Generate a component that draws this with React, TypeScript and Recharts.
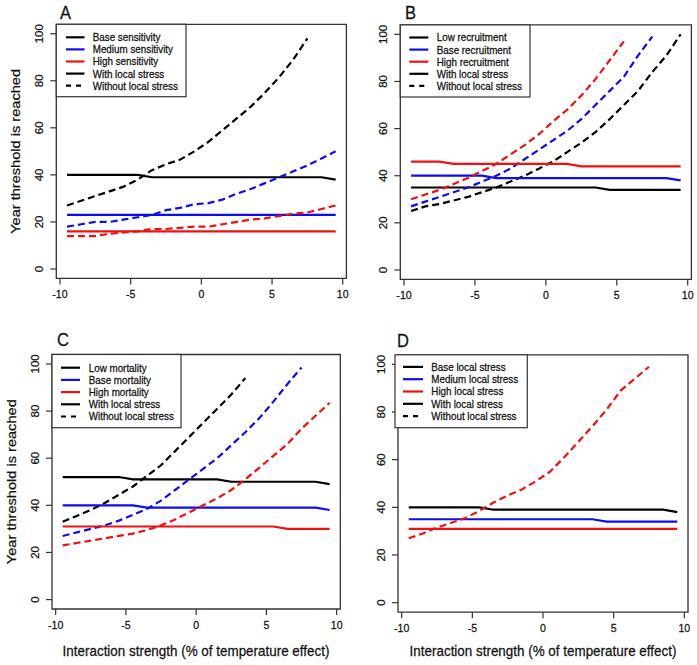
import React from 'react';
import { LineChart, Line, XAxis, YAxis, ReferenceArea } from 'recharts';

// ---------- shared axis values ----------
const xValues = [-9.5, -8.5, -7.5, -6.5, -5.5, -4.5, -3.5, -2.5, -1.5, -0.5, 0.5, 1.5, 2.5, 3.5, 4.5, 5.5, 6.5, 7.5, 8.5, 9.5];
const xTicks = [-10, -5, 0, 5, 10];
const yTicks = [0, 20, 40, 60, 80, 100];
const xDomain = [-10.26, 10.26];
const yDomain = [-4, 104];

// ---------- Panel A: sensitivity ----------
const aBaseWith = [40, 40, 40, 40, 40, 40, 39, 39, 39, 39, 39, 39, 39, 39, 39, 39, 39, 39, 39, 38];
const aMediumWith = [23, 23, 23, 23, 23, 23, 23, 23, 23, 23, 23, 23, 23, 23, 23, 23, 23, 23, 23, 23];
const aHighWith = [16, 16, 16, 16, 16, 16, 16, 16, 16, 16, 16, 16, 16, 16, 16, 16, 16, 16, 16, 16];
const aBaseWithout = [27, 29, 31, 33, 35, 38, 42, 44.5, 46.5, 50, 54, 59, 64, 69, 75, 81.5, 89, 98];
const aMediumWithout = [18, 19, 20, 20, 21, 22, 23, 25, 26, 27.5, 28, 29.5, 32, 34, 36.5, 39, 41.5, 44, 47, 50];
const aHighWithout = [14, 14, 14, 15, 15.5, 16, 17, 17, 17.5, 18, 18, 19, 20, 21, 21.5, 22.5, 23.5, 24, 25.5, 27];
const aLegend = ['Base sensitivity', 'Medium sensitivity', 'High sensitivity', 'With local stress', 'Without local stress'];

// ---------- Panel B: recruitment ----------
const bLowWith = [35, 35, 35, 35, 35, 35, 35, 35, 35, 35, 35, 35, 35, 35, 34, 34, 34, 34, 34, 34];
const bBaseWith = [40, 40, 40, 40, 40, 40, 39, 39, 39, 39, 39, 39, 39, 39, 39, 39, 39, 39, 39, 38];
const bHighWith = [46, 46, 46, 45, 45, 45, 45, 45, 45, 45, 45, 45, 44, 44, 44, 44, 44, 44, 44, 44];
const bLowWithout = [25, 27, 28, 29.5, 31, 33, 35, 37.5, 40, 43, 46, 50, 54, 58.5, 64, 70, 76, 84, 91, 100];
const bBaseWithout = [27, 29, 31, 33, 35, 37.5, 40, 43, 47, 51, 55, 59, 64, 70, 76, 82, 91, 99];
const bHighWithout = [30, 32, 34, 36.5, 39, 42, 45, 49, 53, 57.5, 63, 68, 74, 81, 89, 97];
const bLegend = ['Low recruitment', 'Base recruitment', 'High recruitment', 'With local stress', 'Without local stress'];

// ---------- Panel C: mortality ----------
const cLowWith = [52, 52, 52, 52, 52, 51, 51, 51, 51, 51, 51, 51, 50, 50, 50, 50, 50, 50, 50, 49];
const cBaseWith = [40, 40, 40, 40, 40, 40, 39, 39, 39, 39, 39, 39, 39, 39, 39, 39, 39, 39, 39, 38];
const cHighWith = [31, 31, 31, 31, 31, 31, 31, 31, 31, 31, 31, 31, 31, 31, 31, 31, 30, 30, 30, 30];
const cLowWithout = [33, 35.5, 38, 41, 44.5, 48, 52.5, 57, 63, 69, 75, 81, 87, 94];
const cBaseWithout = [27, 28.5, 30, 31.5, 33.5, 36, 38.5, 42, 46.5, 51, 55.5, 60, 65.5, 71, 77, 84, 91.5, 98.5];
const cHighWithout = [23, 24, 25, 26, 27, 28, 29.5, 31.5, 34, 37, 40, 43, 46.5, 51, 56, 61, 66, 72.5, 78, 83.5];
const cLegend = ['Low mortality', 'Base mortality', 'High mortality', 'With local stress', 'Without local stress'];

// ---------- Panel D: local stress ----------
const dBaseWith = [40, 40, 40, 40, 40, 40, 39, 39, 39, 39, 39, 39, 39, 39, 39, 39, 39, 39, 39, 38];
const dMediumWith = [35, 35, 35, 35, 35, 35, 35, 35, 35, 35, 35, 35, 35, 35, 34, 34, 34, 34, 34, 34];
const dHighWith = [31, 31, 31, 31, 31, 31, 31, 31, 31, 31, 31, 31, 31, 31, 31, 31, 31, 31, 31, 31];
const dWithout = [27, 29, 31.5, 33.5, 35.5, 38.5, 42, 45, 47.5, 51, 55, 61, 67.5, 74, 81, 89, 94, 99];
const dLegend = ['Base local stress', 'Medium local stress', 'High local stress', 'With local stress', 'Without local stress'];

const BLACK = '#000000';
const BLUE = '#0d0df0';
const RED = '#f01010';
const FRAME = '#333333';
const TXT = '#111111';
const FONT = '"Liberation Sans", Arial, Helvetica, sans-serif';
const W = 697;
const H = 665;
const DASH = '7 4';
const SQ = 0.92; // horizontal squeeze of the glyphs seen in the reference

type Box = { left: number; top: number; right: number; bottom: number };
type SeriesDef = { key: string; values: number[]; color: string; dashed: boolean };

const buildRows = (series: SeriesDef[]) =>
  xValues.map((x, i) => {
    const row: Record<string, number | null> = { x };
    series.forEach((s) => {
      row[s.key] = i < s.values.length ? s.values[i] : null;
    });
    return row;
  });

function HText({ x, y, size, anchor, children }: { x: number; y: number; size: number; anchor?: 'start' | 'middle' | 'end'; children: React.ReactNode }) {
  return (
    <text
      transform={`translate(${x},${y}) scale(${SQ},1)`}
      x={0}
      y={0}
      fontSize={size}
      fontFamily={FONT}
      fill={TXT}
      stroke={TXT}
      strokeWidth={0.25}
      textAnchor={anchor || 'start'}
    >
      {children}
    </text>
  );
}

function VText({ x, y, size, children }: { x: number; y: number; size: number; children: React.ReactNode }) {
  return (
    <text
      transform={`translate(${x},${y}) rotate(-90) scale(1,${SQ})`}
      x={0}
      y={0}
      fontSize={size}
      fontFamily={FONT}
      fill={TXT}
      stroke={TXT}
      strokeWidth={0.25}
      textAnchor="middle"
    >
      {children}
    </text>
  );
}

const Y_AXIS_W = 40;
const X_AXIS_H = 30;

function Panel({ box, series }: { box: Box; series: SeriesDef[] }) {
  const data = buildRows(series);
  const XTick = (props: any) => (
    <HText x={props.x} y={box.bottom + 20} size={11.5} anchor="middle">
      {props.payload.value}
    </HText>
  );
  const YTick = (props: any) => (
    <VText x={box.left - 13} y={props.y} size={11.5}>
      {props.payload.value}
    </VText>
  );
  return (
    <div style={{ position: 'absolute', left: 0, top: 0, width: W, height: H }}>
      <LineChart
        width={W}
        height={H}
        data={data}
        margin={{
          left: box.left - Y_AXIS_W,
          top: box.top,
          right: W - box.right,
          bottom: H - box.bottom - X_AXIS_H,
        }}
      >
        <XAxis
          dataKey="x"
          type="number"
          domain={xDomain}
          ticks={xTicks}
          allowDataOverflow
          height={X_AXIS_H}
          axisLine={false}
          tickLine={{ stroke: FRAME, strokeWidth: 1.2 }}
          tickSize={6}
          tick={<XTick />}
        />
        <YAxis
          type="number"
          domain={yDomain}
          ticks={yTicks}
          allowDataOverflow
          width={Y_AXIS_W}
          axisLine={false}
          tickLine={{ stroke: FRAME, strokeWidth: 1.2 }}
          tickSize={6}
          tick={<YTick />}
        />
        <ReferenceArea
          x1={xDomain[0]}
          x2={xDomain[1]}
          y1={yDomain[0]}
          y2={yDomain[1]}
          fill="none"
          fillOpacity={0}
          stroke={FRAME}
          strokeWidth={1.3}
          ifOverflow="visible"
        />
        {series.map((s) => (
          <Line
            key={s.key}
            dataKey={s.key}
            type="linear"
            stroke={s.color}
            strokeWidth={2.2}
            strokeDasharray={s.dashed ? DASH : undefined}
            dot={false}
            activeDot={false}
            isAnimationActive={false}
            connectNulls={false}
          />
        ))}
      </LineChart>
    </div>
  );
}

type LegendGeom = { left: number; top: number; right: number; bottom: number; lineX1: number; lineX2: number; textX: number; row0: number; step: number };

function LegendBox({ g, labels }: { g: LegendGeom; labels: string[] }) {
  const styles = [
    { color: BLACK, dashed: false },
    { color: BLUE, dashed: false },
    { color: RED, dashed: false },
    { color: BLACK, dashed: false },
    { color: BLACK, dashed: true },
  ];
  return (
    <g>
      <rect x={g.left} y={g.top} width={g.right - g.left} height={g.bottom - g.top} fill="#fff" stroke={FRAME} strokeWidth={1.2} />
      {labels.map((lab, i) => {
        const y = g.row0 + i * g.step;
        return (
          <g key={lab + i}>
            <line x1={g.lineX1} x2={g.lineX2} y1={y} y2={y} stroke={styles[i].color} strokeWidth={2.2} strokeDasharray={styles[i].dashed ? '5 5' : undefined} />
            <HText x={g.textX} y={y + 3.9} size={10.7}>
              {lab}
            </HText>
          </g>
        );
      })}
    </g>
  );
}

const boxA: Box = { left: 56.3, top: 24.3, right: 346.4, bottom: 278.4 };
const boxB: Box = { left: 400.3, top: 24.9, right: 691.4, bottom: 279.4 };
const boxC: Box = { left: 52, top: 354.5, right: 340.3, bottom: 609 };
const boxD: Box = { left: 398, top: 354.8, right: 688, bottom: 612.2 };

export default function App() {
  const seriesA: SeriesDef[] = [
    { key: 'bw', values: aBaseWith, color: BLACK, dashed: false },
    { key: 'bo', values: aBaseWithout, color: BLACK, dashed: true },
    { key: 'mw', values: aMediumWith, color: BLUE, dashed: false },
    { key: 'mo', values: aMediumWithout, color: BLUE, dashed: true },
    { key: 'hw', values: aHighWith, color: RED, dashed: false },
    { key: 'ho', values: aHighWithout, color: RED, dashed: true },
  ];
  const seriesB: SeriesDef[] = [
    { key: 'lw', values: bLowWith, color: BLACK, dashed: false },
    { key: 'lo', values: bLowWithout, color: BLACK, dashed: true },
    { key: 'bw', values: bBaseWith, color: BLUE, dashed: false },
    { key: 'bo', values: bBaseWithout, color: BLUE, dashed: true },
    { key: 'hw', values: bHighWith, color: RED, dashed: false },
    { key: 'ho', values: bHighWithout, color: RED, dashed: true },
  ];
  const seriesC: SeriesDef[] = [
    { key: 'lw', values: cLowWith, color: BLACK, dashed: false },
    { key: 'lo', values: cLowWithout, color: BLACK, dashed: true },
    { key: 'bw', values: cBaseWith, color: BLUE, dashed: false },
    { key: 'bo', values: cBaseWithout, color: BLUE, dashed: true },
    { key: 'hw', values: cHighWith, color: RED, dashed: false },
    { key: 'ho', values: cHighWithout, color: RED, dashed: true },
  ];
  const seriesD: SeriesDef[] = [
    { key: 'bw', values: dBaseWith, color: BLACK, dashed: false },
    { key: 'mw', values: dMediumWith, color: BLUE, dashed: false },
    { key: 'hw', values: dHighWith, color: RED, dashed: false },
    { key: 'ho', values: dWithout, color: RED, dashed: true },
  ];

  const xTitle = 'Interaction strength (% of temperature effect)';
  const yTitle = 'Year threshold is reached';

  return (
    <div style={{ position: 'absolute', left: 0, top: 0, width: W, height: H, background: '#fff', overflow: 'hidden' }}>
      <Panel box={boxA} series={seriesA} />
      <Panel box={boxB} series={seriesB} />
      <Panel box={boxC} series={seriesC} />
      <Panel box={boxD} series={seriesD} />
      <svg width={W} height={H} style={{ position: 'absolute', left: 0, top: 0, pointerEvents: 'none' }}>
        <LegendBox g={{ left: 56.3, top: 24.3, right: 186, bottom: 96.7, lineX1: 66, lineX2: 84.5, textX: 92.7, row0: 37.3, step: 12.1 }} labels={aLegend} />
        <LegendBox g={{ left: 400.3, top: 24.9, right: 530, bottom: 97, lineX1: 409.3, lineX2: 428.3, textX: 436.7, row0: 37.5, step: 12.1 }} labels={bLegend} />
        <LegendBox g={{ left: 52, top: 354.5, right: 181, bottom: 427.7, lineX1: 61, lineX2: 80, textX: 88.7, row0: 367.7, step: 12.2 }} labels={cLegend} />
        <LegendBox g={{ left: 395, top: 354.8, right: 527.3, bottom: 427.7, lineX1: 403, lineX2: 423, textX: 431.3, row0: 366.9, step: 12.3 }} labels={dLegend} />

        <HText x={60} y={19} size={18}>A</HText>
        <HText x={405} y={19} size={18}>B</HText>
        <HText x={57} y={346} size={18}>C</HText>
        <HText x={397} y={347} size={18}>D</HText>

        <VText x={20} y={151.4} size={14.6}>{yTitle}</VText>
        <VText x={16} y={481.7} size={14.6}>{yTitle}</VText>
        <HText x={196} y={656} size={14.6} anchor="middle">{xTitle}</HText>
        <HText x={543} y={656} size={14.6} anchor="middle">{xTitle}</HText>
      </svg>
    </div>
  );
}
